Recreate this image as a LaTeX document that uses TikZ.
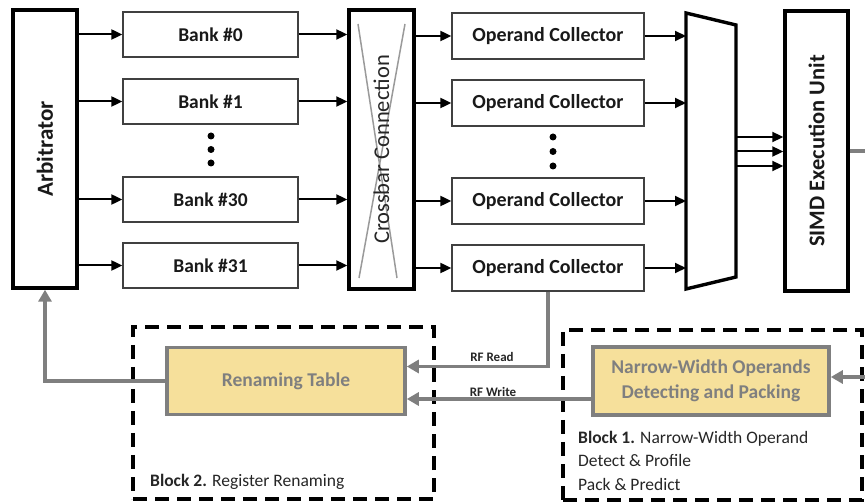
\documentclass[tikz,border=0pt]{standalone}
\usepackage{fontspec}
\setmainfont{Carlito}
\usetikzlibrary{arrows.meta,calc}
\definecolor{ryel}{HTML}{F6E09B}
\definecolor{rgray}{HTML}{7F7F7F}
\definecolor{xgray}{HTML}{9A9A9A}
\begin{document}
\begin{tikzpicture}[x=1pt,y=-1pt,
  bigbox/.style={draw=black,line width=3.4pt,inner sep=0pt,text=black!90},
  bank/.style={draw=black!75,line width=1.3pt,minimum width=175pt,minimum height=45pt,inner sep=0pt,font=\fontsize{19.5}{19.5}\selectfont\bfseries,text=black!90},
  ocbox/.style={bank,minimum width=192pt,minimum height=46pt,font=\fontsize{20}{20}\selectfont\bfseries},
  arr/.style={-{Triangle[length=11pt,width=10pt]},line width=2pt},
  garr/.style={draw=rgray,line width=3.6pt,-{Triangle[length=12pt,width=13pt]},color=rgray},
  ybox/.style={draw=rgray,line width=3.6pt,fill=ryel,text=rgray,inner sep=0pt,font=\fontsize{19.5}{25}\selectfont\bfseries,align=center},
  dashbox/.style={draw=black,line width=3.2pt,dash pattern=on 14pt off 8pt,inner sep=0pt},
  dot/.style={circle,fill=black,inner sep=0pt,minimum size=7pt},
  small/.style={font=\fontsize{13}{13}\selectfont\bfseries,text=black!85,inner sep=0pt},
  note/.style={font=\fontsize{17.5}{17.5}\selectfont,text=black!85,inner sep=0pt,anchor=base west}]
\useasboundingbox (0,0) rectangle (865,502);
% top row
\node[bigbox,minimum width=64pt,minimum height=278pt,font=\fontsize{23}{23}\selectfont\bfseries] (arb) at (45,149) {\rotatebox{90}{Arbitrator}};
\node[bank] (b0) at (210.5,34.5) {Bank \#0};
\node[bank] (b1) at (210.5,101.5) {Bank \#1};
\node[bank] (b30) at (210.5,199.5) {Bank \#30};
\node[bank] (b31) at (210.5,265.5) {Bank \#31};
\node[dot] (d1) at (211,136) {};
\node[dot] (d2) at (211,149.5) {};
\node[dot] (d3) at (211,163) {};
\node[bigbox,minimum width=65pt,minimum height=279pt] (xbar) at (381.5,149.5) {};
\draw[xgray,line width=1.5pt] (358,24) -- (397,278);
\draw[xgray,line width=1.5pt] (405,24) -- (359,278);
\node[font=\fontsize{22.5}{22.5}\selectfont,text=black!85,inner sep=0pt] (xbart) at (xbar.center) {\rotatebox{90}{Crossbar Connection}};
\node[ocbox] (oc0) at (548,36) {Operand Collector};
\node[ocbox] (oc1) at (548,103) {Operand Collector};
\node[ocbox] (oc2) at (548,201) {Operand Collector};
\node[ocbox] (oc3) at (548,268) {Operand Collector};
\node[dot] (e1) at (553,137) {};
\node[dot] (e2) at (553,151.5) {};
\node[dot] (e3) at (553,166) {};
% mux
\coordinate (m1) at (686,13);
\coordinate (m2) at (736,25);
\coordinate (m3) at (736,277);
\coordinate (m4) at (686,289);
\draw[line width=3.4pt,line join=miter] (m1) -- (m2) -- (m3) -- (m4) -- cycle;
\coordinate (mo1) at (736,137);
\coordinate (mo2) at (736,151.5);
\coordinate (mo3) at (736,166);
\node[bigbox,minimum width=63pt,minimum height=280pt,font=\fontsize{22.5}{22.5}\selectfont\bfseries] (simd) at (816.5,151) {\rotatebox{90}{SIMD Execution Unit}};
% arrows
\foreach \b in {b0,b1,b30,b31}{
  \draw[arr] (arb.east |- \b.west) -- (\b.west);
  \draw[arr] (\b.east) -- (xbar.west |- \b.east);
}
\foreach \o in {oc0,oc1,oc2,oc3}{
  \draw[arr] (xbar.east |- \o.west) -- (\o.west);
  \draw[arr] (\o.east) -- (\o.east -| m1);
}
\foreach \m in {mo1,mo2,mo3}{
  \draw[arr] (\m) -- (simd.west |- \m);
}
% bottom
\node[dashbox,minimum width=301pt,minimum height=172pt] (blk2) at (283.5,413) {};
\node[dashbox,minimum width=299pt,minimum height=170pt] (blk1) at (712.5,415) {};
\node[ybox,minimum width=238pt,minimum height=67pt] (rt) at (286,381) {Renaming Table};
\node[ybox,minimum width=236pt,minimum height=68pt] (nw) at (711,381) {Narrow-Width Operands\\Detecting and Packing};
\coordinate (r1) at (866,151);
\coordinate (r2) at (866,377);
\draw[rgray,line width=3.6pt] (simd.east) -- (r1);
\draw[garr] (r2) -- ([yshift=4pt]nw.east);
\draw[garr] (rt.west) -| (arb.south);
\draw[garr] (oc3.south) |- ([yshift=14.5pt]rt.east);
\draw[garr] ([yshift=-18pt]nw.west) -- ([yshift=-18pt]rt.east);
\node[small] (rfr) at (492,357) {RF Read};
\node[small] (rfw) at (493,392) {RF Write};
\node[note] (t2) at (150,486) {\textbf{Block 2.} Register Renaming};
\node[note] (t1a) at (578,443) {\textbf{Block 1.} Narrow-Width Operand};
\node[note] (t1b) at (578,466) {Detect \& Profile};
\node[note] (t1c) at (578,490) {Pack \& Predict};
\end{tikzpicture}
\end{document}
